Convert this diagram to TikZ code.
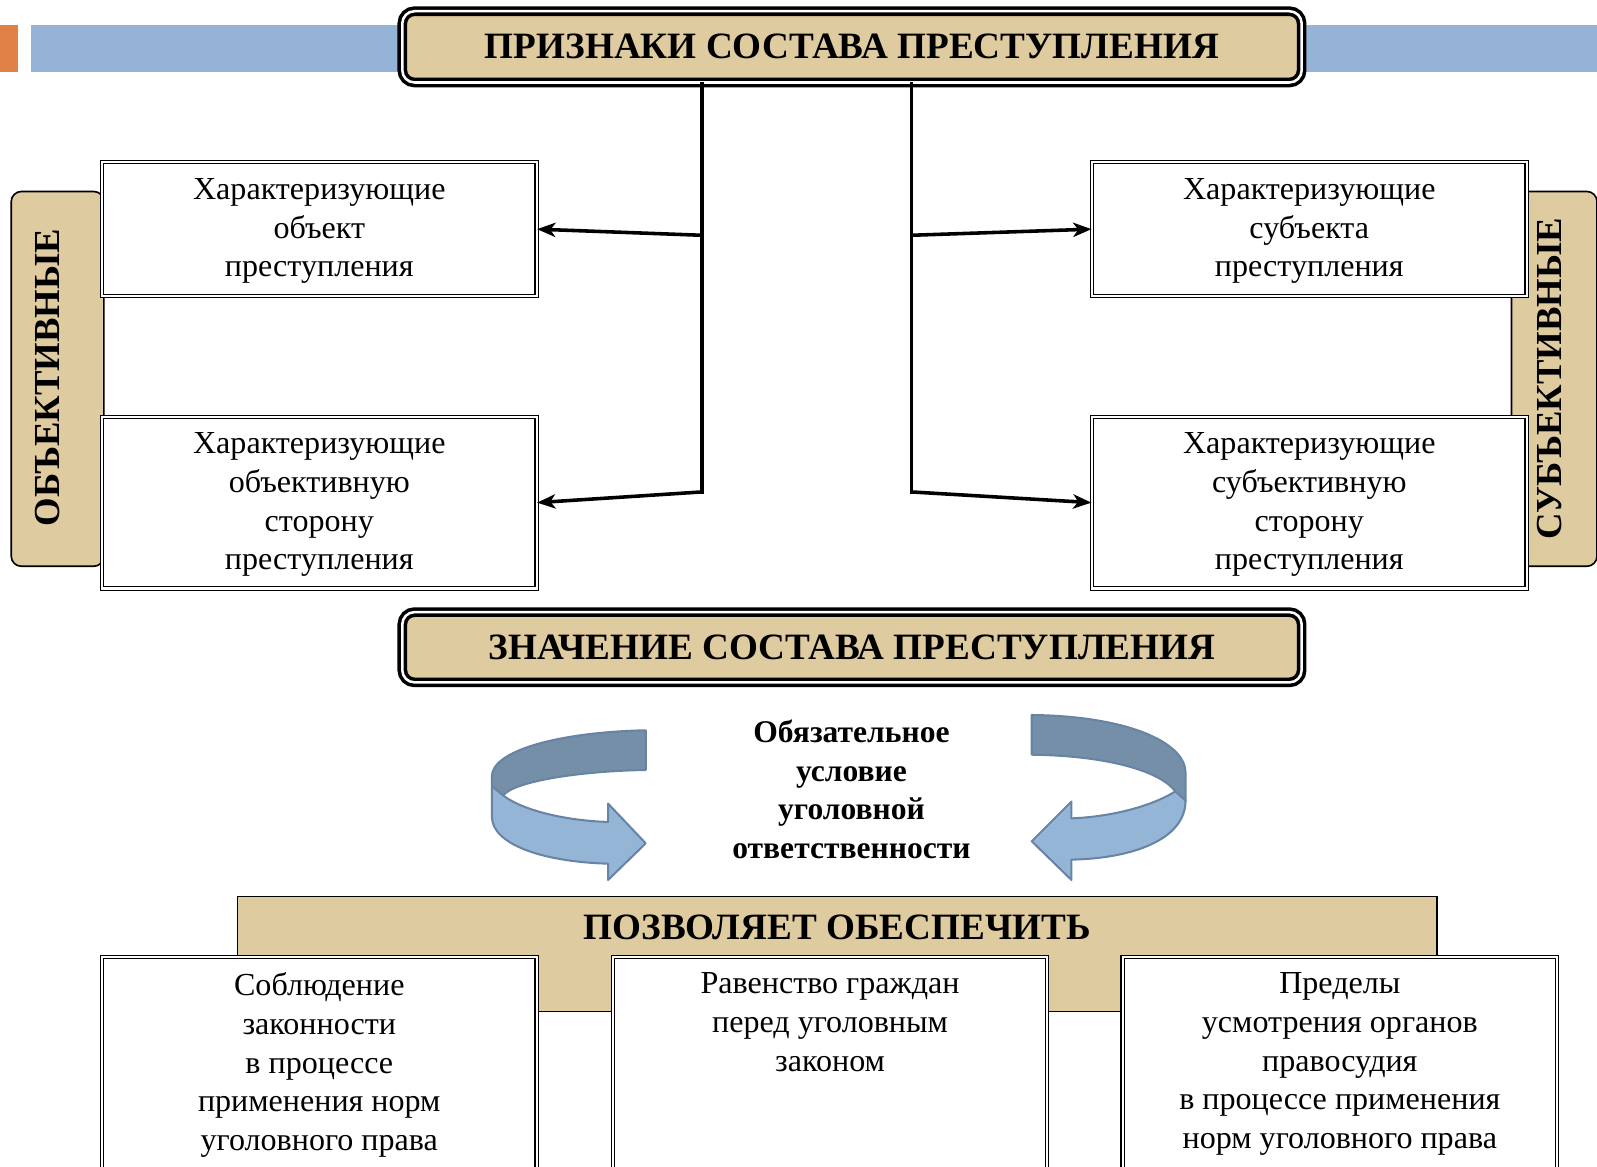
\documentclass[tikz,border=0pt]{standalone}
\usepackage{fontspec}
\setmainfont{Liberation Serif}
\usetikzlibrary{arrows.meta}
\definecolor{tanc}{RGB}{223,203,160}
\definecolor{barblue}{RGB}{149,179,215}
\definecolor{barorange}{RGB}{224,128,70}
\definecolor{ribdark}{RGB}{118,143,168}
\definecolor{riblight}{RGB}{149,181,215}
\definecolor{ribline}{RGB}{104,132,164}
\begin{document}
\begin{tikzpicture}[x=1pt,y=-1pt,
  titlebox/.style={draw=black, line width=3.5pt, double=white, double distance=2.5pt,
    fill=tanc, rounded corners=12pt, inner sep=0pt, font=\fontsize{36.5}{42}\selectfont\bfseries},
  wbox/.style={draw=black, line width=1.1pt, double=white, double distance=2pt, fill=white, inner sep=0pt},
  txt/.style={align=center, inner sep=0pt, font=\fontsize{31.5}{38}\selectfont},
  sidebox/.style={draw=black, line width=1.6pt, fill=tanc, rounded corners=10pt, inner sep=0pt},
  sidetxt/.style={rotate=90, inner sep=0pt, font=\fontsize{36}{42}\selectfont\bfseries},
  trunk/.style={draw=black, line width=3.5pt},
  arr/.style={trunk, -{Stealth[length=18pt,width=14pt,inset=5pt]}},
  ribd/.style={fill=ribdark, draw=ribline, line width=2pt, line join=round},
  ribl/.style={fill=riblight, draw=ribline, line width=2pt, line join=round}
]
\useasboundingbox (0,0) rectangle (1568,1145);
\clip (0,0) rectangle (1568,1145);

% top bars
\fill[barorange] (0,25) rectangle (18,71);
\fill[barblue] (30,25) rectangle (1568,71);

% side bars
\node[sidebox, minimum width=91pt, minimum height=368pt] (sL) at (56.5,372) {};
\node[sidetxt] (sLt) at (47,371) {ОБЪЕКТИВНЫЕ};
\node[sidebox, minimum width=84pt, minimum height=368pt] (sR) at (1526,372) {};
\node[sidetxt] (sRt) at (1521,372) {СУБЪЕКТИВНЫЕ};

% junction coordinates
\coordinate (jL1) at (689,231);
\coordinate (jL2) at (689,483);
\coordinate (jR1) at (895,231);
\coordinate (jR2) at (895,483);

% title
\node[titlebox, minimum width=883pt, minimum height=70pt] (t1) at (836.5,46) {ПРИЗНАКИ СОСТАВА ПРЕСТУПЛЕНИЯ};

% white boxes
\node[wbox, minimum width=426.6pt, minimum height=131.6pt] (o1) at (313.5,225) {};
\node[txt] (o1t) at (313.5,227) {Характеризующие\\объект\\преступления};
\node[wbox, minimum width=426.6pt, minimum height=168.6pt] (o2) at (313.5,493.5) {};
\node[txt] (o2t) at (313.5,495.5) {Характеризующие\\объективную\\сторону\\преступления};
\node[wbox, minimum width=426.6pt, minimum height=131.6pt] (s1) at (1285.5,225) {};
\node[txt] (s1t) at (1285.5,227) {Характеризующие\\субъекта\\преступления};
\node[wbox, minimum width=426.6pt, minimum height=168.6pt] (s2) at (1285.5,493.5) {};
\node[txt] (s2t) at (1285.5,495.5) {Характеризующие\\субъективную\\сторону\\преступления};

% connectors
\draw[trunk, line cap=rect] (t1.south -| jL1) -- (jL2);
\draw[trunk, line cap=rect] (t1.south -| jR1) -- (jR2);
\draw[arr] (jL1) -- (o1.east);
\draw[arr] (jL2) -- (o2.east);
\draw[arr] (jR1) -- (s1.west);
\draw[arr] (jR2) -- (s2.west);

% second title
\node[titlebox, minimum width=883pt, minimum height=69pt] (t2) at (836.5,635.5) {ЗНАЧЕНИЕ СОСТАВА ПРЕСТУПЛЕНИЯ};

% curved arrows
\filldraw[ribd] (634,717) .. controls (545,719) and (483,738) .. (483,762) -- (483,772) -- (494,781)
   .. controls (505,767) and (570,757) .. (634,756) -- cycle;
\filldraw[ribl] (483,772) -- (494,781) .. controls (515,797) and (560,806) .. (597,807)
   -- (597,789) -- (634,828) -- (597,864) -- (597,848)
   .. controls (530,846) and (483,828) .. (483,802) -- cycle;

\filldraw[ribd] (1013,702) .. controls (1105,703) and (1163,728) .. (1164,758) -- (1164,786) -- (1154,777)
   .. controls (1140,758) and (1090,742) .. (1013,741) -- cycle;
\filldraw[ribl] (1154,777) -- (1164,786) .. controls (1164,825) and (1110,843) .. (1052,844)
   -- (1052,864) -- (1013,826) -- (1052,787) -- (1052,803.5)
   .. controls (1090,802) and (1130,792) .. (1154,777) -- cycle;

\node[txt, font=\fontsize{31}{38}\selectfont\bfseries] (mid) at (836,775) {Обязательное\\условие\\уголовной\\ответственности};

% band
\node[draw=black, line width=1.5pt, fill=tanc, minimum width=1178pt, minimum height=113pt, inner sep=0pt] (band) at (822,936.5) {};
\node[inner sep=0pt, font=\fontsize{36.5}{42}\selectfont\bfseries] (bandt) at (822,911) {ПОЗВОЛЯЕТ ОБЕСПЕЧИТЬ};

% bottom boxes
\node[wbox, anchor=north, minimum width=426.6pt, minimum height=260pt] (c1) at (313.5,939.2) {};
\node[txt, anchor=north] (c1t) at (313.5,955) {Соблюдение\\законности\\в процессе\\применения норм\\уголовного права};
\node[wbox, anchor=north, minimum width=426.6pt, minimum height=260pt] (c2) at (815,939.2) {};
\node[txt, anchor=north] (c2t) at (815,955) {Равенство граждан\\перед уголовным\\законом};
\node[wbox, anchor=north, minimum width=426.6pt, minimum height=260pt] (c3) at (1315.5,939.2) {};
\node[txt, anchor=north] (c3t) at (1315.5,955) {Пределы\\усмотрения органов\\правосудия\\в процессе применения\\норм уголовного права};
\end{tikzpicture}
\end{document}
